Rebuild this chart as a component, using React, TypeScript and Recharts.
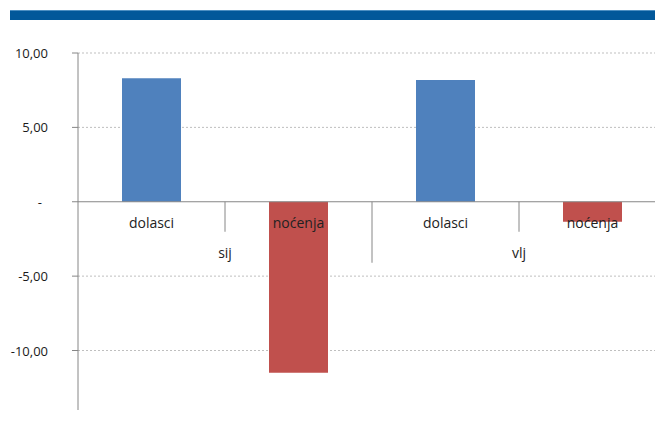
import React from 'react';
import { BarChart, Bar, XAxis, YAxis, CartesianGrid, ReferenceLine, Cell } from 'recharts';

const months = ['sij', 'sij', 'vlj', 'vlj'];
const kinds = ['dolasci', 'noćenja', 'dolasci', 'noćenja'];
const values = [8.3, -11.49, 8.18, -1.34];
const yTicks = [-10, -5, 0, 5, 10];
const gridValues = [-10, -5, 5, 10];
const yDomain: [number, number] = [-14, 10];

const kindColors: Record<string, string> = {
  dolasci: '#4F81BD',
  'noćenja': '#C0504D',
};

const data = kinds.map((k, i) => ({ key: `${months[i]}-${k}`, kind: k, month: months[i], value: values[i] }));

const CHART_W = 672;
const CHART_H = 426;
const MARGIN = { top: 53, right: 6, bottom: 15, left: 0 };
const Y_AXIS_W = 78;
const PLOT_W = CHART_W - MARGIN.left - MARGIN.right - Y_AXIS_W;
const PLOT_H = CHART_H - MARGIN.top - MARGIN.bottom - 1;
const ZERO_Y = MARGIN.top + (PLOT_H * yDomain[1]) / (yDomain[1] - yDomain[0]);
const BAND = PLOT_W / data.length;
const FONT = '"Open Sans", sans-serif';

const fmt = (v: number) => (v === 0 ? '-' : v.toFixed(2).replace('.', ','));

const YTick = ({ x, y, payload }: any) => (
  <text
    x={payload.value === 0 ? x - 6 : x}
    y={y}
    dy={5}
    textAnchor="end"
    fontFamily={FONT}
    fontSize={13}
    fill="#1a1a1a"
  >
    {fmt(payload.value)}
  </text>
);

const XTick = ({ x, index, payload }: any) => {
  const d = data[index];
  const first = index === 0 || data[index - 1].month !== d.month;
  return (
    <g>
      <text x={x} y={ZERO_Y + 26} textAnchor="middle" fontFamily={FONT} fontSize={14} fill="#222">
        {d ? d.kind : payload.value}
      </text>
      {first && (
        <g>
          <line x1={x + BAND / 2} x2={x + BAND / 2} y1={ZERO_Y} y2={ZERO_Y + 30} stroke="#868686" />
          <text x={x + BAND / 2} y={ZERO_Y + 56} textAnchor="middle" fontFamily={FONT} fontSize={14} fill="#222">
            {d.month}
          </text>
          {index > 0 && (
            <line x1={x - BAND / 2} x2={x - BAND / 2} y1={ZERO_Y} y2={ZERO_Y + 61} stroke="#868686" />
          )}
        </g>
      )}
    </g>
  );
};

export default function App() {
  return (
    <div style={{ position: 'absolute', left: 0, top: 0, width: 655, height: 426, overflow: 'hidden', background: '#fff' }}>
      <div style={{ position: 'absolute', left: 10, top: 10, width: 660, height: 9, background: '#02589A', borderTop: '1px solid #4d8fc2' }} />
      <BarChart width={CHART_W} height={CHART_H} data={data} margin={MARGIN} barSize={59}>
        <CartesianGrid
          vertical={false}
          stroke="#bfbfbf"
          strokeDasharray="2 2"
          horizontalValues={gridValues}
        />
        <XAxis dataKey="key" axisLine={false} tickLine={false} height={1} tick={<XTick />} interval={0} />
        <YAxis
          width={Y_AXIS_W}
          domain={yDomain}
          ticks={yTicks}
          interval={0}
          allowDataOverflow
          axisLine={{ stroke: '#868686' }}
          tickLine={{ stroke: '#868686' }}
          tickSize={6}
          tickMargin={24}
          tick={<YTick />}
        />
        <Bar dataKey="value" isAnimationActive={false}>
          {data.map((d) => (
            <Cell key={d.key} fill={kindColors[d.kind]} />
          ))}
        </Bar>
        <ReferenceLine y={0} stroke="#868686" />
      </BarChart>
    </div>
  );
}
